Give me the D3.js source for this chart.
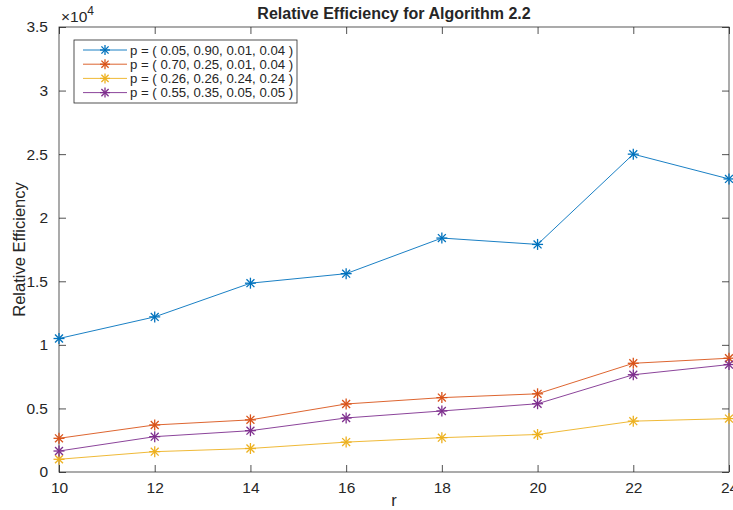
<!DOCTYPE html>
<html><head><meta charset="utf-8">
<script src="https://cdn.jsdelivr.net/npm/d3@7"></script>
<style>
body{margin:0;background:#fff;}
text{font-family:"Liberation Sans",Arial,Helvetica,sans-serif;fill:#262626;}
</style></head>
<body>
<svg id="c" width="733" height="510"></svg>
<script>
const rValues = [10, 12, 14, 16, 18, 20, 22, 24];
const seriesNames = [
  "p = ( 0.05, 0.90, 0.01, 0.04 )",
  "p = ( 0.70, 0.25, 0.01, 0.04 )",
  "p = ( 0.26, 0.26, 0.24, 0.24 )",
  "p = ( 0.55, 0.35, 0.05, 0.05 )"
];
const blueValues   = [10500, 12200, 14850, 15600, 18400, 17900, 25000, 23050];
const orangeValues = [2650, 3700, 4100, 5350, 5850, 6150, 8550, 8950];
const yellowValues = [1000, 1600, 1850, 2350, 2700, 2950, 4000, 4200];
const purpleValues = [1650, 2780, 3250, 4250, 4800, 5370, 7650, 8450];
const seriesColors = ["#0072BD", "#D95319", "#EDB120", "#7E2F8E"];
const xTicks = [10, 12, 14, 16, 18, 20, 22, 24];
const yTicks = [0, 5000, 10000, 15000, 20000, 25000, 30000, 35000];
const yTickLabels = ["0", "0.5", "1", "1.5", "2", "2.5", "3", "3.5"];

const allSeries = [blueValues, orangeValues, yellowValues, purpleValues];

const svg = d3.select("#c");
const L = 59, R = 729, T = 27, B = 472;
const x = d3.scaleLinear().domain([10, 24]).range([L, R]);
const y = d3.scaleLinear().domain([0, 35000]).range([B, T]);
const axisColor = "#262626";
const tickLen = 7;

svg.append("rect").attr("x", L).attr("y", T).attr("width", R - L).attr("height", B - T)
  .attr("fill", "#fff").attr("stroke", "none");

function styleAxis(g) {
  g.select(".domain").remove();
  g.selectAll(".tick line").attr("stroke", axisColor).attr("stroke-width", 0.8);
  g.selectAll(".tick text").attr("fill", axisColor).style("font-size", "15.5px");
}

const gx = svg.append("g").attr("transform", `translate(0,${B})`)
  .call(d3.axisBottom(x).tickValues(xTicks).tickSize(-tickLen).tickPadding(10).tickFormat(d3.format("d")));
styleAxis(gx);
const gxt = svg.append("g").attr("transform", `translate(0,${T})`)
  .call(d3.axisTop(x).tickValues(xTicks).tickSize(-tickLen).tickFormat(""));
styleAxis(gxt);
const gy = svg.append("g").attr("transform", `translate(${L},0)`)
  .call(d3.axisLeft(y).tickValues(yTicks).tickSize(-tickLen).tickPadding(11)
    .tickFormat((d, i) => yTickLabels[i]));
styleAxis(gy);
const gyr = svg.append("g").attr("transform", `translate(${R},0)`)
  .call(d3.axisRight(y).tickValues(yTicks).tickSize(-tickLen).tickFormat(""));
styleAxis(gyr);

svg.append("rect").attr("x", L).attr("y", T).attr("width", R - L).attr("height", B - T)
  .attr("fill", "none").attr("stroke", axisColor).attr("stroke-width", 0.9).attr("stroke-opacity", 0.85);

const line = d3.line().x((d, i) => x(rValues[i])).y(d => y(d));

function asterisk(g, cx, cy, color, s) {
  const h = s / 2, dd = h * 0.72;
  const segs = [[-h, 0, h, 0], [0, -h, 0, h], [-dd, -dd, dd, dd], [-dd, dd, dd, -dd]];
  segs.forEach(sg => g.append("line")
    .attr("x1", cx + sg[0]).attr("y1", cy + sg[1]).attr("x2", cx + sg[2]).attr("y2", cy + sg[3])
    .attr("stroke", color).attr("stroke-width", 1.3));
}

allSeries.forEach((vals, k) => {
  const g = svg.append("g");
  g.append("path").datum(vals).attr("d", line).attr("fill", "none")
    .attr("stroke", seriesColors[k]).attr("stroke-width", 0.9);
  vals.forEach((v, i) => asterisk(g, x(rValues[i]), y(v), seriesColors[k], 11));
});

const lg = svg.append("g");
lg.append("rect").attr("x", 74).attr("y", 40).attr("width", 223).attr("height", 63)
  .attr("fill", "#fff").attr("stroke", axisColor).attr("stroke-width", 0.8);
seriesNames.forEach((name, k) => {
  const yy = 50 + k * 14.2;
  lg.append("line").attr("x1", 83).attr("x2", 127).attr("y1", yy).attr("y2", yy)
    .attr("stroke", seriesColors[k]).attr("stroke-width", 0.9);
  asterisk(lg, 105, yy, seriesColors[k], 10);
  lg.append("text").attr("x", 130).attr("y", yy + 4.5).text(name)
    .style("font-size", "13.2px").attr("fill", "#000");
});

svg.append("text").attr("x", (L + R) / 2).attr("y", 19).attr("text-anchor", "middle")
  .style("font-size", "16px").style("font-weight", "bold").attr("fill", "#000")
  .text("Relative Efficiency for Algorithm 2.2");

svg.append("text").attr("x", (L + R) / 2).attr("y", 506).attr("text-anchor", "middle")
  .style("font-size", "16.5px").text("r");
svg.append("text").attr("transform", `translate(25,${(T + B) / 2}) rotate(-90)`)
  .attr("text-anchor", "middle").style("font-size", "16.5px").text("Relative Efficiency");

const ex = svg.append("text").attr("x", 61).attr("y", 22).style("font-size", "15.5px");
ex.append("tspan").text("×10");
ex.append("tspan").attr("dy", -7).style("font-size", "12px").text("4");
</script>
</body></html>
